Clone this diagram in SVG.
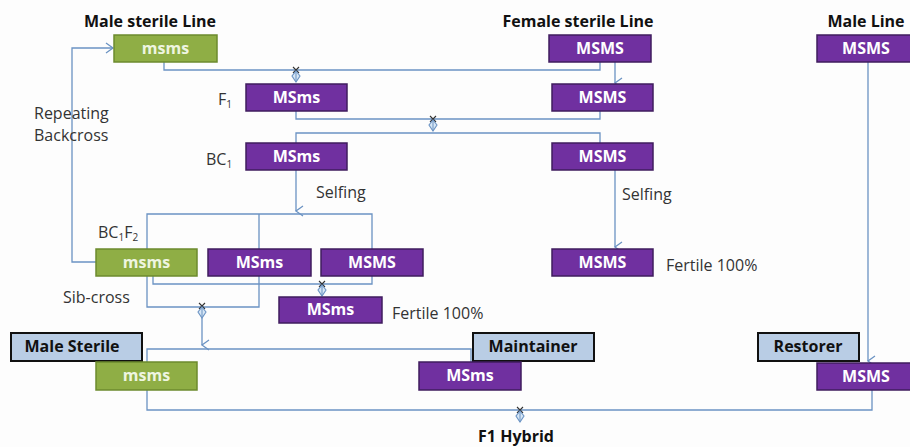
<svg xmlns="http://www.w3.org/2000/svg" width="910" height="447" viewBox="0 0 910 447">
<defs>
<marker id="v" markerWidth="12" markerHeight="12" refX="6" refY="9" orient="auto-start-reverse" markerUnits="userSpaceOnUse" viewBox="0 0 12 12">
<path d="M1,2 L6,9 L11,2" fill="none" stroke="#6b93c3" stroke-width="1.3"/>
</marker>
<marker id="vr" markerWidth="12" markerHeight="12" refX="9" refY="6" orient="0" markerUnits="userSpaceOnUse" viewBox="0 0 12 12">
<path d="M2,1 L9,6 L2,11" fill="none" stroke="#6b93c3" stroke-width="1.3"/>
</marker>
<g id="xmark">
<path d="M-3,-4 L3,2 M3,-4 L-3,2" stroke="#333" stroke-width="1.1"/>
<path d="M0,0 L4,5 L0,11 L-4,5 Z" fill="#d6e6f5" stroke="#6b93c3" stroke-width="1.1"/>
<path d="M0,0 L0,11" stroke="#6b93c3" stroke-width="1"/>
</g>
</defs>
<style>
.c{fill:none;stroke:#6b93c3;stroke-width:1.3}
.g{fill:#8fae45;stroke:#6c8a2e;stroke-width:1.5}
.p{fill:#7030a0;stroke:#3f1c5e;stroke-width:1.5}
.lb{fill:#b9cde5;stroke:#111;stroke-width:2}
.bt{font-family:"Open Sans","Noto Sans",sans-serif;font-weight:bold;font-size:16px;fill:#fff;text-anchor:middle}
.gt{fill:#eef5e0}
.h{font-family:"Open Sans","Noto Sans",sans-serif;font-weight:bold;font-size:16px;fill:#111;text-anchor:middle}
.t{font-family:"Open Sans","Noto Sans",sans-serif;font-size:16px;fill:#333}
.s{font-size:10px}
</style>
<rect width="910" height="447" fill="#fdfdfd"/>

<g id="connectors">
<path class="c" d="M96,262 L72,262 L72,48 L113,48" marker-end="url(#vr)"/>
<path class="c" d="M164,62 L164,70 L600,70 L600,62"/>
<use href="#xmark" x="296" y="71"/>
<path class="c" d="M615,62 L615,83" marker-end="url(#v)"/>
<path class="c" d="M296,111 L296,119 L600,119 L600,111"/>
<use href="#xmark" x="433" y="120"/>
<path class="c" d="M296,143 L296,133 L600,133 L600,143"/>
<path class="c" d="M296,170 L296,211" marker-end="url(#v)"/>
<path class="c" d="M615,170 L615,247" marker-end="url(#v)"/>
<path class="c" d="M147,249 L147,214 L372,214 L372,249"/>
<path class="c" d="M259,214 L259,307 L147,307 L147,276"/>
<path class="c" d="M153,276 L153,284 L372,284 L372,276"/>
<use href="#xmark" x="322" y="285"/>
<use href="#xmark" x="202" y="307"/>
<path class="c" d="M202,318 L202,345" marker-end="url(#v)"/>
<path class="c" d="M868,62 L868,361" marker-end="url(#v)"/>
<path class="c" d="M147,362 L147,349 L471,349 L471,362"/>
<path class="c" d="M147,390 L147,410 L872,410 L872,390"/>
<use href="#xmark" x="520" y="411"/>
</g>

<g id="top-labels">
<text class="h" x="150" y="27">Male sterile Line</text>
<text class="h" x="578" y="27">Female sterile Line</text>
<text class="h" x="866" y="27">Male Line</text>
</g>

<g id="ms-line"><rect class="g" x="114" y="35" width="103" height="27"/><text class="bt gt" x="165.5" y="54">msms</text></g>
<g id="fs-line"><rect class="p" x="549" y="35" width="102" height="27"/><text class="bt" x="600" y="54">MSMS</text></g>
<g id="male-line"><rect class="p" x="817" y="35" width="100" height="27"/><text class="bt" x="866" y="54">MSMS</text></g>

<g id="f1-msms"><rect class="p" x="246" y="84" width="101" height="27"/><text class="bt" x="296.5" y="103">MSms</text></g>
<g id="f1-MSMS"><rect class="p" x="552" y="84" width="101" height="27"/><text class="bt" x="602.5" y="103">MSMS</text></g>
<text class="t" x="218" y="105">F<tspan class="s" dy="3">1</tspan></text>

<g id="bc1-msms"><rect class="p" x="246" y="143" width="101" height="27"/><text class="bt" x="296.5" y="162">MSms</text></g>
<g id="bc1-MSMS"><rect class="p" x="552" y="143" width="101" height="27"/><text class="bt" x="602.5" y="162">MSMS</text></g>
<text class="t" x="206" y="165">BC<tspan class="s" dy="3">1</tspan></text>

<text class="t" x="316" y="198">Selfing</text>
<text class="t" x="622" y="200">Selfing</text>

<text class="t" x="34" y="119">Repeating</text>
<text class="t" x="34" y="141">Backcross</text>

<text class="t" x="98" y="238">BC<tspan class="s" dy="3">1</tspan><tspan dy="-3">F</tspan><tspan class="s" dy="3">2</tspan></text>

<g id="f2-msms"><rect class="g" x="96" y="249" width="101" height="27"/><text class="bt gt" x="146.5" y="268">msms</text></g>
<g id="f2-MSms"><rect class="p" x="208" y="249" width="103" height="27"/><text class="bt" x="259.5" y="268">MSms</text></g>
<g id="f2-MSMS"><rect class="p" x="321" y="249" width="102" height="27"/><text class="bt" x="372" y="268">MSMS</text></g>
<g id="self-MSMS"><rect class="p" x="552" y="249" width="101" height="27"/><text class="bt" x="602.5" y="268">MSMS</text></g>
<text class="t" x="666" y="271">Fertile 100%</text>

<text class="t" x="63" y="303">Sib-cross</text>
<g id="fert-MSms"><rect class="p" x="279" y="297" width="103" height="26"/><text class="bt" x="330.5" y="315">MSms</text></g>
<text class="t" x="392" y="319">Fertile 100%</text>

<g id="male-sterile"><rect class="lb" x="11" y="333" width="131" height="28"/><text class="h" x="72" y="352">Male Sterile</text></g>
<g id="ms-final"><rect class="g" x="96" y="362" width="101" height="28"/><text class="bt gt" x="146.5" y="381">msms</text></g>
<g id="maintainer"><rect class="lb" x="473" y="333" width="121" height="28"/><text class="h" x="533" y="352">Maintainer</text></g>
<g id="mt-final"><rect class="p" x="419" y="362" width="102" height="28"/><text class="bt" x="470" y="381">MSms</text></g>
<g id="restorer"><rect class="lb" x="758" y="333" width="101" height="28"/><text class="h" x="808" y="352">Restorer</text></g>
<g id="rs-final"><rect class="p" x="817" y="363" width="100" height="27"/><text class="bt" x="866" y="382">MSMS</text></g>

<text class="h" x="516" y="442">F1 Hybrid</text>
</svg>
